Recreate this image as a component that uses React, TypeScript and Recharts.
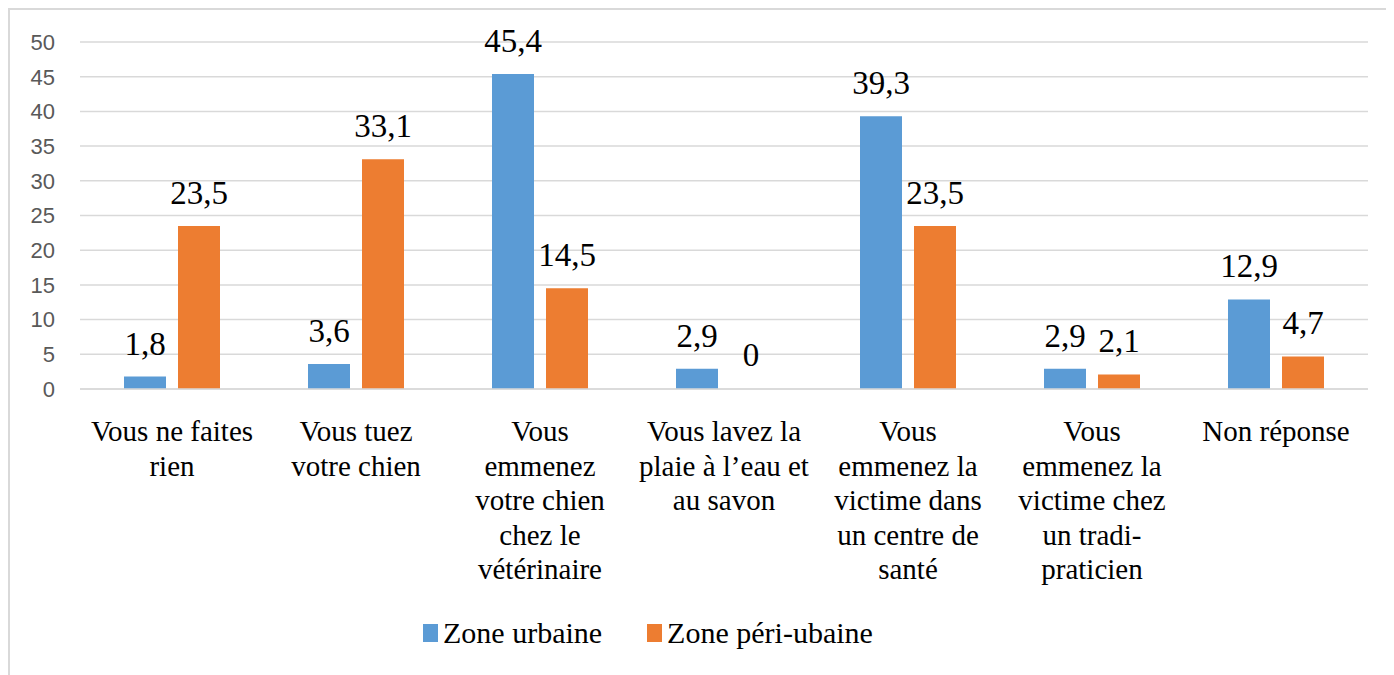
import React from "react";
import {
  BarChart,
  Bar,
  XAxis,
  YAxis,
  CartesianGrid,
  Legend,
  LabelList,
  Rectangle,
} from "recharts";

// Tick labels, with the line breaks as they appear under each group.
const categories = [
  "Vous ne faites\nrien",
  "Vous tuez\nvotre chien",
  "Vous\nemmenez\nvotre chien\nchez le\nvétérinaire",
  "Vous lavez la\nplaie à l’eau et\nau savon",
  "Vous\nemmenez la\nvictime dans\nun centre de\nsanté",
  "Vous\nemmenez la\nvictime chez\nun tradi-\npraticien",
  "Non réponse",
];

const zoneUrbaine = [1.8, 3.6, 45.4, 2.9, 39.3, 2.9, 12.9];
const zonePeriUrbaine = [23.5, 33.1, 14.5, 0, 23.5, 2.1, 4.7];

const yTicks = [0, 5, 10, 15, 20, 25, 30, 35, 40, 45, 50];

const BLUE = "#5B9BD5";
const ORANGE = "#ED7D31";
const GRID = "#d9d9d9";
const SERIF = "Liberation Serif, Tinos, DejaVu Serif, Times New Roman, serif";

const data = categories.map((category, i) => ({
  category,
  urbaine: zoneUrbaine[i],
  periUrbaine: zonePeriUrbaine[i],
}));

const formatValue = (v: any) => String(v).replace(".", ",");

// zero-value bars still need a rectangle so their label gets drawn
const keepZero = (v: any) => (v === 0 ? 1 : 0);

// ...but that rectangle should not be visible
const PeriShape = (props: any) =>
  props.payload && props.payload.periUrbaine === 0 ? <g /> : <Rectangle {...props} />;

// Multi-line category label under the axis
const CategoryTick = (props: any) => {
  const { x, y, payload } = props;
  const lines = String(payload.value).split("\n");
  return (
    <text
      x={x}
      y={y + 44}
      textAnchor="middle"
      style={{ fontFamily: SERIF, fontSize: 29 }}
      fill="#000"
    >
      {lines.map((line, i) => (
        <tspan key={i} x={x} dy={i === 0 ? 0 : 34.5}>
          {line}
        </tspan>
      ))}
    </text>
  );
};

const LegendContent = () => {
  const items = [
    { label: "Zone urbaine", color: BLUE },
    { label: "Zone péri-ubaine", color: ORANGE },
  ];
  return (
    <div style={{ display: "flex", alignItems: "center", height: 38 }}>
      {items.map((item, i) => (
        <div
          key={item.label}
          style={{
            display: "flex",
            alignItems: "center",
            marginRight: i === 0 ? 45 : 0,
          }}
        >
          <svg width={15} height={18} style={{ marginRight: 5 }}>
            <rect width={15} height={18} fill={item.color} />
          </svg>
          <span
            style={{
              fontFamily: SERIF,
              fontSize: 30,
              color: "#000",
              lineHeight: "38px",
              whiteSpace: "nowrap",
            }}
          >
            {item.label}
          </span>
        </div>
      ))}
    </div>
  );
};

const labelStyle = { fontFamily: SERIF, fontSize: 33, fill: "#000" };

const App: React.FC = () => {
  return (
    <div
      style={{
        width: 1386,
        height: 667,
        borderTop: `2px solid ${GRID}`,
        borderLeft: `2px solid ${GRID}`,
        boxSizing: "border-box",
        background: "#fff",
      }}
    >
      <BarChart
        width={1384}
        height={665}
        data={data}
        margin={{ top: 32, right: 26, left: 0, bottom: 48 }}
        barSize={42}
        barGap={12}
      >
        <CartesianGrid vertical={false} stroke={GRID} strokeWidth={1.5} />
        <XAxis
          dataKey="category"
          interval={0}
          height={200}
          axisLine={{ stroke: GRID, strokeWidth: 1.5 }}
          tickLine={false}
          tick={<CategoryTick />}
        />
        <YAxis
          width={70}
          domain={[0, 50]}
          ticks={yTicks}
          axisLine={false}
          tickLine={false}
          tickSize={0}
          tickMargin={25}
          tick={{
            fontFamily: "Liberation Sans, Arial, sans-serif",
            fontSize: 22,
            fill: "#595959",
          }}
        />
        <Legend
          verticalAlign="bottom"
          content={<LegendContent />}
          wrapperStyle={{ left: 413, top: 604, width: 600, height: 38 }}
        />
        <Bar dataKey="urbaine" name="Zone urbaine" fill={BLUE} isAnimationActive={false}>
          <LabelList
            dataKey="urbaine"
            position="top"
            offset={22}
            formatter={formatValue}
            style={labelStyle}
          />
        </Bar>
        <Bar
          dataKey="periUrbaine"
          name="Zone péri-ubaine"
          fill={ORANGE}
          minPointSize={keepZero}
          shape={PeriShape}
          isAnimationActive={false}
        >
          <LabelList
            dataKey="periUrbaine"
            position="top"
            offset={22}
            formatter={formatValue}
            style={labelStyle}
          />
        </Bar>
      </BarChart>
    </div>
  );
};

export default App;
